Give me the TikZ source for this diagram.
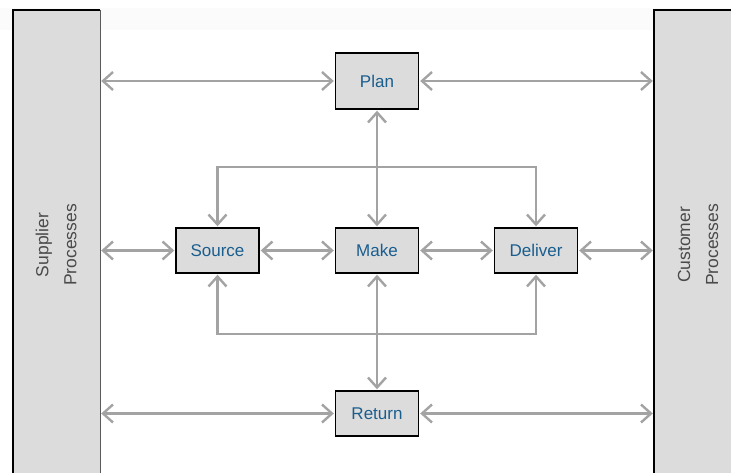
\documentclass[tikz,border=0pt]{standalone}
\usepackage{fontspec}
\setmainfont{Liberation Sans}
\usetikzlibrary{arrows.meta}
\definecolor{boxfill}{HTML}{DCDCDC}
\definecolor{linkgray}{HTML}{A3A3A3}
\definecolor{labelblue}{HTML}{1A5E8E}
\definecolor{paneltext}{HTML}{4A4A4A}
\definecolor{paneledge}{HTML}{5A5A5A}
\definecolor{topband}{HTML}{FBFBFB}

\begin{document}
\begin{tikzpicture}[x=1pt,y=-1pt,
  proc/.style={draw=black, line width=1.4pt, fill=boxfill,
    minimum width=83pt, minimum height=45pt, inner sep=0pt,
    font=\fontsize{17}{20}\selectfont, text=labelblue},
  panel/.style={fill=boxfill, inner sep=0pt, minimum width=87pt, minimum height=470pt},
  paneltitle/.style={rotate=90, align=center, text=paneltext,
    font=\fontsize{17.5}{28}\selectfont},
  tip/.tip={Straight Barb[length=10pt,width=18pt]},
  link/.style={draw=linkgray, line width=2.4pt, tip-tip,
    shorten >=1pt, shorten <=1pt},
]
\useasboundingbox (0,0) rectangle (731,473);
\clip (0,0) rectangle (731,473);

% faint band along the top edge
\fill[topband] (0,8) rectangle (731,30);

% side panels
\node[panel] (supplier) at (56.5,245.5) {};
\node[panel] (customer) at (697.5,245.5) {};
\draw[paneledge, line width=1.2pt] (supplier.north east) -- (supplier.south east);
\draw[black, line width=2pt] (supplier.south west) -- (supplier.north west) -- (supplier.north east);
\draw[black, line width=2pt] (customer.south west) -- (customer.north west) -- (customer.north east);
\node[paneltitle] (suptext) at (56,245) {Supplier\\Processes};
\node[paneltitle] (custext) at (698,245) {Customer\\Processes};

% process boxes
\node[proc, minimum height=56pt] (plan) at (377,81) {Plan};
\node[proc] (source) at (217.5,250.5) {Source};
\node[proc] (make) at (377,250.5) {Make};
\node[proc] (deliver) at (536,250.5) {Deliver};
\node[proc] (return) at (377,413.5) {Return};

% Plan row
\draw[link] (supplier.east |- plan.west) -- (plan.west);
\draw[link] (plan.east) -- (customer.west |- plan.east);

% Main row
\draw[link] (supplier.east |- source.west) -- (source.west);
\draw[link] (source.east) -- (make.west);
\draw[link] (make.east) -- (deliver.west);
\draw[link] (deliver.east) -- (customer.west |- deliver.east);

% Return row
\draw[link] (supplier.east |- return.west) -- (return.west);
\draw[link] (return.east) -- (customer.west |- return.east);

% vertical links through Make
\draw[link] (plan.south) -- (make.north);
\draw[link] (make.south) -- (return.north);

% brackets joining Source and Deliver
\draw[link] (source.north) -- ++(0,-60) -| (deliver.north);
\draw[link] (source.south) -- ++(0,60) -| (deliver.south);
\end{tikzpicture}
\end{document}
